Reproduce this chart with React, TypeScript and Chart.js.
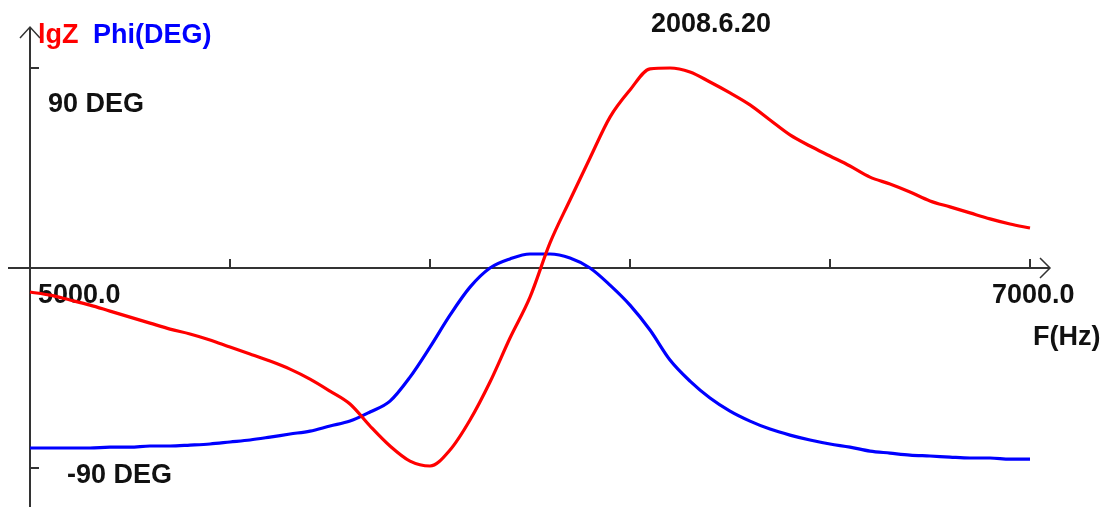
import React, { useEffect, useRef } from "react";
import { Chart, registerables } from "chart.js";

Chart.register(...registerables);

// Frequency samples (Hz)
const freqHz: number[] = [
  5000, 5040, 5080, 5120, 5160, 5200, 5240, 5280, 5320, 5360,
  5400, 5440, 5480, 5520, 5560, 5600, 5640, 5680, 5720, 5760,
  5800, 5840, 5880, 5920, 5960, 6000, 6040, 6080, 6120, 6160,
  6200, 6240, 6280, 6320, 6360, 6400, 6440, 6480, 6520, 6560,
  6600, 6640, 6680, 6720, 6760, 6800, 6840, 6880, 6920, 6960, 7000,
];

// Phase (degrees)
const phiDeg: number[] = [
  -81.0, -81.0, -81.0, -81.0, -80.6, -80.6, -80.1, -80.1, -79.7, -79.2,
  -78.3, -77.4, -76.1, -74.7, -73.4, -71.1, -68.9, -64.8, -59.9, -49.1,
  -35.6, -21.2, -8.6, 0.0, 4.1, 6.3, 6.3, 4.5, 0.0, -7.7,
  -16.7, -27.9, -41.4, -50.9, -58.5, -64.4, -68.9, -72.5, -75.2, -77.4,
  -79.2, -80.6, -82.4, -83.3, -84.2, -84.6, -85.1, -85.5, -85.5, -86.0, -86.0,
];

// lgZ (drawn in the same display units as the phase axis)
const lgZ: number[] = [
  -10.8, -12.2, -14.4, -16.7, -19.4, -22.1, -24.8, -27.5, -29.7, -32.4,
  -35.6, -38.7, -41.9, -45.5, -50.0, -55.4, -61.2, -71.1, -80.1, -86.9,
  -89.1, -81.9, -68.4, -51.3, -31.5, -13.1, 11.3, 30.6, 49.5, 67.9,
  80.1, 89.6, 90.0, 88.2, 83.7, 78.8, 73.4, 66.6, 59.9, 54.9,
  50.4, 45.9, 40.9, 37.8, 34.2, 30.2, 27.5, 24.8, 22.1, 19.8, 18.0,
];

const xTicks: number[] = [5400, 5800, 6200, 6600, 7000];
const yTicks: number[] = [90, -90];

const App: React.FC = () => {
  const ref = useRef<HTMLCanvasElement | null>(null);

  useEffect(() => {
    if (!ref.current) return;
    const ink = "#111111";
    const axisColor = "#333333";
    const font = "bold 27px 'Liberation Sans', Arial, sans-serif";

    const axesPlugin = {
      id: "axesPlugin",
      beforeDatasetsDraw(chart: any) {
        const ctx = chart.ctx;
        const xs = chart.scales.x;
        const ys = chart.scales.y;
        const x0 = xs.getPixelForValue(5000);
        const y0 = ys.getPixelForValue(0);
        const xEnd = xs.getPixelForValue(7000);
        ctx.save();
        ctx.strokeStyle = axisColor;
        ctx.lineWidth = 2;
        ctx.beginPath();
        ctx.moveTo(x0, chart.height);
        ctx.lineTo(x0, 27);
        ctx.moveTo(8, y0);
        ctx.lineTo(xEnd + 20, y0);
        ctx.stroke();
        ctx.lineWidth = 1.5;
        ctx.beginPath();
        ctx.moveTo(x0 - 10, 38);
        ctx.lineTo(x0, 27);
        ctx.lineTo(x0 + 10, 38);
        ctx.moveTo(xEnd + 10, y0 - 10);
        ctx.lineTo(xEnd + 20, y0);
        ctx.lineTo(xEnd + 10, y0 + 10);
        ctx.stroke();
        ctx.lineWidth = 2;
        ctx.beginPath();
        for (const t of xTicks) {
          const px = xs.getPixelForValue(t);
          ctx.moveTo(px, y0);
          ctx.lineTo(px, y0 - 9);
        }
        for (const t of yTicks) {
          const py = ys.getPixelForValue(t);
          ctx.moveTo(x0, py);
          ctx.lineTo(x0 + 9, py);
        }
        ctx.stroke();

        ctx.font = font;
        ctx.textAlign = "left";
        ctx.textBaseline = "alphabetic";
        ctx.fillStyle = "#ff0000";
        ctx.fillText("lgZ", 38, 43);
        ctx.fillStyle = "#0000ff";
        ctx.fillText("Phi(DEG)", 93, 43);
        ctx.fillStyle = ink;
        ctx.fillText("2008.6.20", 651, 32);
        ctx.fillText("90 DEG", 48, 112);
        ctx.fillText("-90 DEG", 67, 483);
        ctx.fillText("5000.0", 38, 303);
        ctx.fillText("7000.0", 992, 303);
        ctx.fillText("F(Hz)", 1033, 345);
        ctx.restore();
      },
    };

    const chart = new Chart(ref.current, {
      type: "line",
      data: {
        datasets: [
          {
            label: "lgZ",
            data: freqHz.map((f, i) => ({ x: f, y: lgZ[i] })),
            borderColor: "#ff0000",
            borderWidth: 3.2,
            pointRadius: 0,
            cubicInterpolationMode: "monotone",
            fill: false,
          },
          {
            label: "Phi(DEG)",
            data: freqHz.map((f, i) => ({ x: f, y: phiDeg[i] })),
            borderColor: "#0000ff",
            borderWidth: 3.2,
            pointRadius: 0,
            cubicInterpolationMode: "monotone",
            fill: false,
          },
        ],
      },
      options: {
        responsive: false,
        animation: false,
        layout: { padding: 0 },
        plugins: {
          legend: { display: false },
          tooltip: { enabled: false },
          title: { display: false },
        },
        scales: {
          x: { type: "linear", display: false, min: 4940, max: 7150 },
          y: { type: "linear", display: false, min: -107.55, max: 120.6 },
        },
      },
      plugins: [axesPlugin],
    });
    return () => chart.destroy();
  }, []);

  return (
    <div
      style={{
        position: "fixed",
        left: 0,
        top: 0,
        width: 1105,
        height: 507,
        background: "#ffffff",
      }}
    >
      <canvas ref={ref} width={1105} height={507} />
    </div>
  );
};

export default App;
